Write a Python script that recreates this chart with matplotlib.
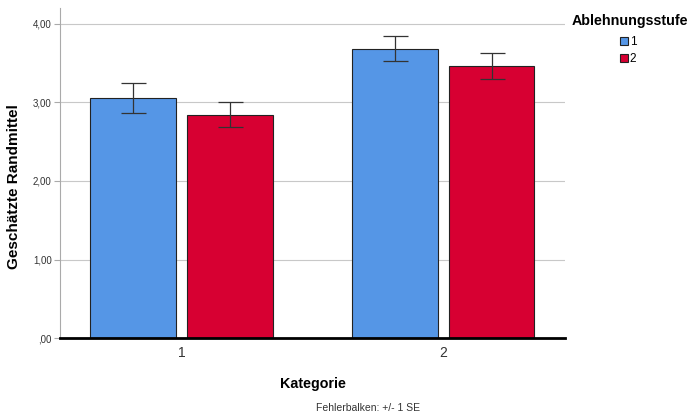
import numpy as np
import matplotlib.pyplot as plt
from matplotlib.patches import Patch

plt.rcParams["font.family"] = ["Liberation Sans", "DejaVu Sans"]

categories = ["1", "2"]
levels = ["1", "2"]
means = {"1": [3.06, 3.68], "2": [2.84, 3.46]}
se = {"1": [0.19, 0.16], "2": [0.16, 0.165]}
colors = {"1": "#5596E6", "2": "#D70032"}

fig = plt.figure(figsize=(6.9, 4.19), dpi=100)
ax = fig.add_axes([0.087, 0.193, 0.732, 0.788])

x = np.arange(1, len(categories) + 1)
width = 0.328
offsets = {"1": -0.185, "2": 0.185}
for lv in levels:
    ax.bar(x + offsets[lv], means[lv], width, color=colors[lv],
           edgecolor="#222222", linewidth=0.8, zorder=2)
    ax.errorbar(x + offsets[lv], means[lv], yerr=se[lv], fmt="none",
                ecolor="#333333", elinewidth=0.9, capsize=9, capthick=0.9, zorder=3)

ax.set_xlim(0.536, 2.466)
ax.set_ylim(0, 4.2)
ax.set_yticks([0, 1, 2, 3, 4])
ax.set_yticklabels([",00", "1,00", "2,00", "3,00", "4,00"], fontsize=7, color="#333333")
ax.set_xticks(x)
ax.set_xticklabels(categories, fontsize=10, color="#333333")
ax.tick_params(axis="y", length=4, color="#aaaaaa", pad=2)
ax.tick_params(axis="x", length=0, pad=6)
ax.grid(axis="y", color="#c8c8c8", linewidth=0.8, zorder=0)
for s in ["top", "right"]:
    ax.spines[s].set_visible(False)
ax.spines["left"].set_color("#aaaaaa")
ax.spines["bottom"].set_color("black")
ax.spines["bottom"].set_linewidth(2)
ax.spines["bottom"].set_zorder(4)

ax.set_ylabel("Geschätzte Randmittel", fontsize=11, fontweight="bold")
ax.yaxis.set_label_coords(-0.077, 0.458)
ax.set_xlabel("Kategorie", fontsize=10.3, fontweight="bold", labelpad=12)
fig.text(0.533, 0.018, "Fehlerbalken: +/- 1 SE", fontsize=7.5, ha="center", color="#333333")

fig.text(0.829, 0.95, "Ablehnungsstufe", fontsize=10.3, fontweight="bold", va="center")
handles = [Patch(facecolor=colors[lv], edgecolor="#222222", linewidth=0.8) for lv in levels]
leg = fig.legend(handles, levels, loc="upper left",
                 bbox_to_anchor=(0.899, 0.913), frameon=False, fontsize=8.5,
                 handlelength=0.65, handleheight=0.65, handletextpad=0.15, labelspacing=0.4,
                 borderpad=0, borderaxespad=0)

fig.savefig("out.png", dpi=100)
